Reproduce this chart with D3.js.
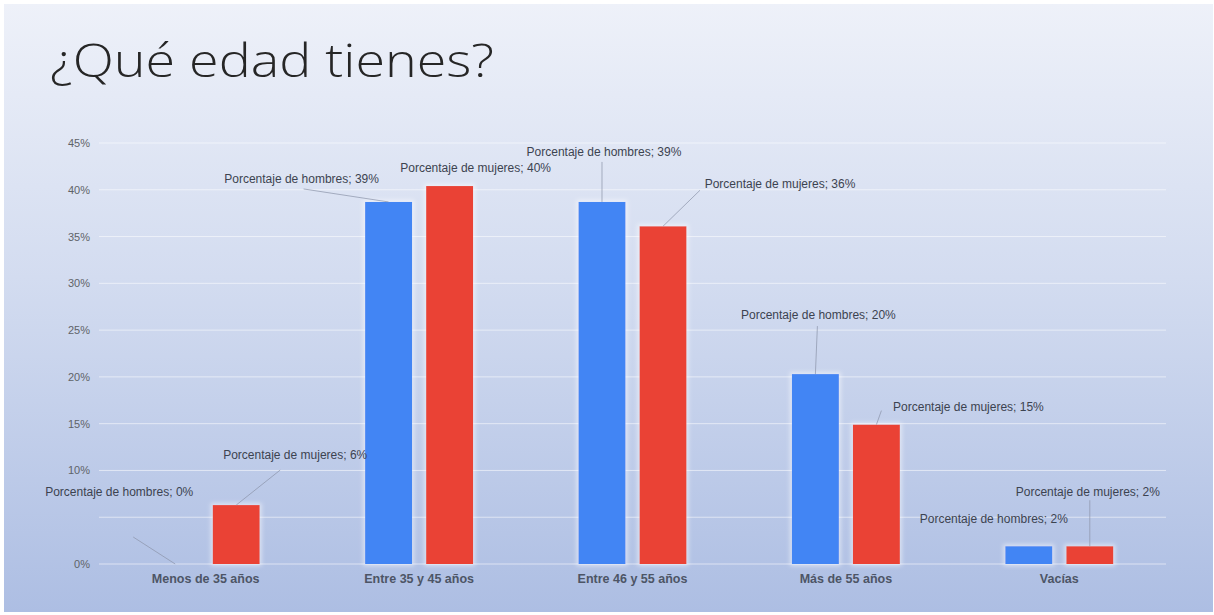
<!DOCTYPE html>
<html><head><meta charset="utf-8">
<script src="https://cdn.jsdelivr.net/npm/d3@7/dist/d3.min.js"></script>
<style>html,body{margin:0;padding:0;background:#fff;}svg{display:block;}</style>
</head><body>
<script>
const categories = ["Menos de 35 años","Entre 35 y 45 años","Entre 46 y 55 años","Más de 55 años","Vacías"];
const seriesNames = ["Porcentaje de hombres","Porcentaje de mujeres"];
const hombres = [0, 38.7, 38.7, 20.3, 1.9];
const mujeres = [6.3, 40.4, 36.1, 14.9, 1.9];
const labelHombres = ["0%","39%","39%","20%","2%"];
const labelMujeres = ["6%","40%","36%","15%","2%"];
const yTicks = [0,5,10,15,20,25,30,35,40,45];
const yTicksHiddenLabel = [5]; // covered by a data label in the original
const colors = ["#4285f4","#ea4335"];
// label placement offsets from bar top (pixels): [labelDx, labelDy, leaderDx, leaderDy]
const labelLayoutH = [[-56,-72,-42,-27],[-87,-23,-85,-13],[2,-50,0,-40],[3,-59,2,-48],[-35,-27,null,null]];
const labelLayoutM = [[59,-50,44,-35],[26,-18,null,null],[117,-42,37,-36],[92,-18,5,-14],[-2,-54,0,-46]];

const W=1214,H=615;
const svg=d3.select("body").append("svg").attr("width",W).attr("height",H);
const defs=svg.append("defs");
const g=defs.append("linearGradient").attr("id","bg").attr("x1",0).attr("y1",0).attr("x2",0).attr("y2",1);
g.append("stop").attr("offset","0").attr("stop-color","#eef1f9");
g.append("stop").attr("offset","0.45").attr("stop-color","#d3dcf0");
g.append("stop").attr("offset","1").attr("stop-color","#adbee3");
const f=defs.append("filter").attr("id","glow").attr("x","-30%").attr("y","-30%").attr("width","160%").attr("height","160%");
f.append("feMorphology").attr("in","SourceAlpha").attr("operator","dilate").attr("radius",2).attr("result","d");
f.append("feGaussianBlur").attr("in","d").attr("stdDeviation",2).attr("result","b");
f.append("feFlood").attr("flood-color","#ffffff").attr("flood-opacity",0.5);
f.append("feComposite").attr("in2","b").attr("operator","in").attr("result","gl");
const fm=f.append("feMerge"); fm.append("feMergeNode").attr("in","gl"); fm.append("feMergeNode").attr("in","SourceGraphic");

svg.append("rect").attr("x",4).attr("y",4).attr("width",W-5).attr("height",H-7).attr("fill","url(#bg)");

svg.append("text").attr("x",50).attr("y",77).attr("font-family","'Open Sans','Noto Sans',sans-serif")
  .attr("font-size",46).attr("font-weight",350).attr("fill","#262626").attr("textLength",444).attr("lengthAdjust","spacingAndGlyphs")
  .text("¿Qué edad tienes?");

const x=d3.scaleBand().domain(categories).range([99,1166]);
const y=d3.scaleLinear().domain([0,45]).range([564,143]);
const xs=d3.scaleBand().domain(seriesNames).range([-54,54]).paddingInner(0.23);

// gridlines
svg.append("g").selectAll("line").data(yTicks).join("line")
  .attr("x1",99).attr("x2",1166).attr("y1",d=>y(d)).attr("y2",d=>y(d))
  .attr("stroke","#ffffff").attr("stroke-opacity",0.55).attr("stroke-width",1);

// y axis labels
const yAxis=d3.axisLeft(y).tickValues(yTicks.filter(t=>!yTicksHiddenLabel.includes(t))).tickSize(0).tickPadding(0).tickFormat(d=>d+"%");
const ya=svg.append("g").attr("transform","translate(90,0)").call(yAxis);
ya.select(".domain").remove();
ya.selectAll("text").attr("font-family","'Liberation Sans',Arial,sans-serif").attr("font-size",11).attr("fill","#5f6368");

// x axis labels
const xAxis=d3.axisBottom(x).tickSize(0).tickPadding(0);
const xa=svg.append("g").attr("transform","translate(0,572)").call(xAxis);
xa.select(".domain").remove();
xa.selectAll("text").attr("font-family","'Liberation Sans',Arial,sans-serif").attr("font-size",12.5).attr("font-weight","bold").attr("fill","#4d5566").attr("dy","0.9em");

const series=[hombres,mujeres];
const labels=[labelHombres,labelMujeres];
const layouts=[labelLayoutH,labelLayoutM];
const barsG=svg.append("g");
const lblG=svg.append("g");
series.forEach((vals,si)=>{
  const sname=seriesNames[si];
  barsG.selectAll(null).data(vals).join("rect")
    .attr("x",(d,i)=>x(categories[i])+x.bandwidth()/2+xs(sname))
    .attr("y",d=>y(d)).attr("width",xs.bandwidth()).attr("height",d=>y(0)-y(d))
    .attr("fill",colors[si]).attr("filter","url(#glow)");
  vals.forEach((v,i)=>{
    const bx=x(categories[i])+x.bandwidth()/2+xs(sname)+xs.bandwidth()/2;
    const by=y(v);
    const L=layouts[si][i];
    if(L[2]!==null){
      lblG.append("line").attr("x1",bx).attr("y1",by).attr("x2",bx+L[2]).attr("y2",by+L[3])
        .attr("stroke","#8a93a8").attr("stroke-opacity",0.7).attr("stroke-width",1);
    }
    lblG.append("text").attr("x",bx+L[0]).attr("y",by+L[1]).attr("text-anchor","middle").attr("dy","0.35em")
      .attr("font-family","'Liberation Sans',Arial,sans-serif").attr("font-size",12).attr("fill","#3c4350")
      .text(sname+"; "+labels[si][i]);
  });
});
</script>
</body></html>
